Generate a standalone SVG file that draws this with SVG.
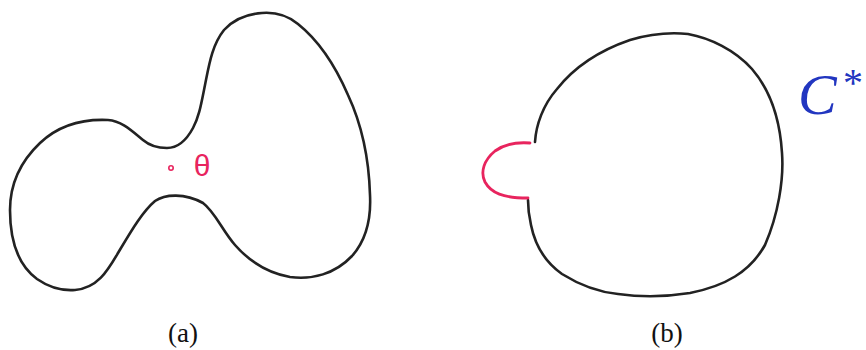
<svg xmlns="http://www.w3.org/2000/svg" width="866" height="350" viewBox="0 0 866 350">
<style>
.curve{fill:none;stroke:#222;stroke-width:2.6;stroke-linecap:round;stroke-linejoin:round}
.red{fill:none;stroke:#e8245e;stroke-width:2.8;stroke-linecap:round}
.cap{font-family:"Liberation Serif",serif;font-size:27px;fill:#111;text-anchor:middle}
.blue{font-family:"Liberation Serif",serif;fill:#2236c0}
</style>
<rect width="866" height="350" fill="#fff"/>
<g id="shape-a">
<path class="curve" d="M167,148 C157,148 150,146 143,140 C132,131 122,121 108,120 C86,119 60,124 40,143 C20,162 10,185 10,210 C10,240 18,265 37,279 C50,288 62,291 75,290 C98,288 108,270 118,253 C130,233 142,212 155,201 C165,194 185,193 203,203 C215,212 222,230 235,245 C250,262 268,273 290,277 C312,280 335,274 352,256 C368,238 371,215 370,195 C369,160 362,125 348,95 C335,65 318,40 298,24 C287,15 275,12 262,13 C247,14 234,19 224,30 C212,45 209,65 205,85 C201,105 199,117 193,128 C186,141 177,148 167,148 Z"/>
<circle cx="171" cy="168" r="2.2" fill="none" stroke="#e8245e" stroke-width="1.6"/>
<text x="202" y="176" font-family="'Liberation Sans',sans-serif" font-size="30" fill="#e8245e" text-anchor="middle">θ</text>
</g>
<g id="shape-b">
<path class="curve" d="M535,142 C536,125 543,105 557,89 C572,70 595,52 630,40 C650,34 668,32 688,34 C710,38 735,50 752,69 C770,90 780,120 782,153 C784,180 778,215 765,245 C750,272 725,286 690,293 C665,297 640,297 618,294 C598,292 578,284 562,274 C545,262 535,245 531,225 C528,212 528,205 528,200"/>
<path class="red" d="M530,143 C518,142 505,144 495,151 C484,160 480,172 485,182 C491,193 503,198 528,198"/>
<text class="blue" x="798" y="114" font-style="italic" font-size="58">C</text>
<text class="blue" x="843" y="96" font-size="40">*</text>
</g>
<g id="captions">
<text class="cap" x="183" y="342">(a)</text>
<text class="cap" x="667" y="342">(b)</text>
</g>
</svg>
